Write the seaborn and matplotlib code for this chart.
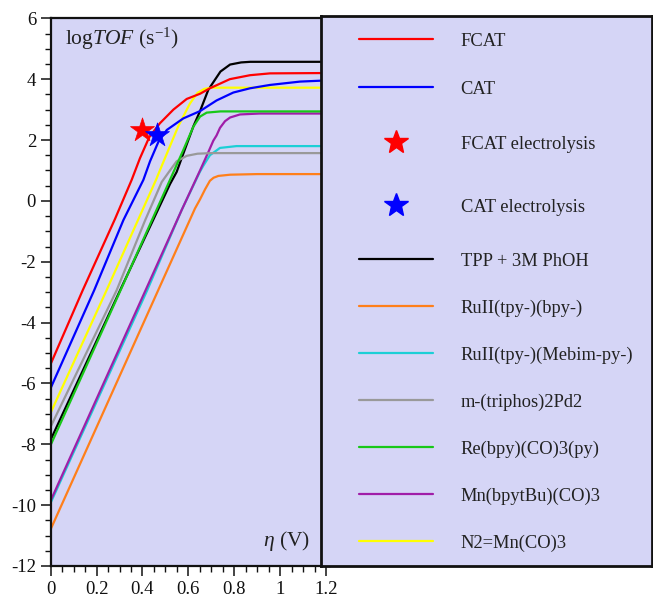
import matplotlib
matplotlib.use("Agg")
import matplotlib.pyplot as plt
import seaborn as sns
import pandas as pd
from matplotlib.lines import Line2D
from matplotlib.legend import Legend
from matplotlib.ticker import MultipleLocator, FixedLocator, FixedFormatter

# ---------------- data ----------------
eta_fcat = [0.0, 0.14, 0.28, 0.353, 0.389, 0.43, 0.476, 0.535, 0.593, 0.651, 0.694, 0.781, 0.869, 0.956, 1.178]
tof_fcat = [-5.36, -2.93, -0.60, 0.69, 1.40, 2.10, 2.55, 3.00, 3.35, 3.52, 3.70, 4.00, 4.13, 4.19, 4.20]

eta_cat = [0.0, 0.19, 0.317, 0.404, 0.433, 0.47, 0.506, 0.578, 0.651, 0.723, 0.796, 0.869, 0.956, 1.087, 1.178]
tof_cat = [-6.15, -2.93, -0.63, 0.69, 1.30, 1.95, 2.33, 2.71, 2.95, 3.30, 3.56, 3.70, 3.81, 3.92, 3.95]

eta_tpp = [0.0, 0.305, 0.52, 0.549, 0.578, 0.622, 0.651, 0.687, 0.709, 0.74, 0.782, 0.83, 0.87, 1.178]
tof_tpp = [-7.85, -2.90, 0.55, 0.95, 1.55, 2.45, 2.95, 3.65, 3.90, 4.25, 4.48, 4.55, 4.57, 4.57]

eta_ru_bpy = [0.0, 0.469, 0.629, 0.651, 0.673, 0.694, 0.71, 0.731, 0.782, 0.90, 1.178]
tof_ru_bpy = [-10.79, -2.93, -0.25, 0.05, 0.38, 0.66, 0.76, 0.82, 0.86, 0.88, 0.88]

eta_ru_mebim = [0.0, 0.42, 0.571, 0.65, 0.665, 0.694, 0.738, 0.81, 1.178]
tof_ru_mebim = [-9.92, -2.95, -0.30, 0.95, 1.15, 1.50, 1.74, 1.80, 1.80]

eta_pd = [0.0, 0.288, 0.411, 0.484, 0.52, 0.549, 0.593, 0.64, 0.70, 1.178]
tof_pd = [-7.42, -2.93, -0.65, 0.62, 1.00, 1.30, 1.48, 1.55, 1.57, 1.57]

eta_re = [0.0, 0.305, 0.52, 0.578, 0.622, 0.651, 0.68, 0.74, 1.178]
tof_re = [-8.02, -2.93, 0.69, 1.67, 2.44, 2.77, 2.90, 2.94, 2.94]

eta_mn = [0.0, 0.414, 0.571, 0.651, 0.687, 0.709, 0.723, 0.738, 0.76, 0.782, 0.825, 0.91, 1.178]
tof_mn = [-9.85, -2.93, -0.30, 1.00, 1.60, 1.98, 2.15, 2.40, 2.62, 2.74, 2.84, 2.87, 2.87]

eta_n2mn = [0.0, 0.244, 0.459, 0.484, 0.556, 0.607, 0.64, 0.67, 0.70, 1.178]
tof_n2mn = [-6.96, -2.93, 0.69, 1.15, 2.45, 3.20, 3.55, 3.68, 3.72, 3.72]

star_fcat_eta = [0.397]
star_fcat_tof = [2.33]
star_cat_eta = [0.462]
star_cat_tof = [2.17]

legend_labels = ["FCAT", "CAT", "FCAT electrolysis", "CAT electrolysis",
                 "TPP + 3M PhOH", "RuII(tpy-)(bpy-)", "RuII(tpy-)(Mebim-py-)",
                 "m-(triphos)2Pd2", "Re(bpy)(CO)3(py)", "Mn(bpytBu)(CO)3", "N2=Mn(CO)3"]

x_ticks = [0, 0.2, 0.4, 0.6, 0.8, 1.0, 1.2]
x_tick_labels = ["0", "0.2", "0.4", "0.6", "0.8", "1", "1.2"]
y_ticks = [-12, -10, -8, -6, -4, -2, 0, 2, 4, 6]
y_tick_labels = ["-12", "-10", "-8", "-6", "-4", "-2", "0", "2", "4", "6"]

# ---------------- style ----------------
sns.set_style("ticks")
plt.rcParams["font.family"] = ["Liberation Serif", "DejaVu Serif"]
plt.rcParams["mathtext.fontset"] = "custom"
plt.rcParams["mathtext.rm"] = "Liberation Serif"
plt.rcParams["mathtext.it"] = "Liberation Serif:italic"
plt.rcParams["mathtext.bf"] = "Liberation Serif:bold"
plt.rcParams["axes.unicode_minus"] = False

BG = "#d5d5f6"
C_RED, C_BLUE, C_BLACK = "#ff0000", "#0000ff", "#000000"
C_ORANGE, C_CYAN, C_GRAY = "#ff7f1a", "#1ccfd6", "#999999"
C_GREEN, C_PURPLE, C_YELLOW = "#18c818", "#a01ea8", "#ffff00"
LW = 1.6

W, H = 653, 599
fig = plt.figure(figsize=(W / 100, H / 100), dpi=100)

# main axes: pixel geometry
x0_px, x1_px = 50.7, 330.0
y_top_px, y_bot_px = 18.3, 566.0
ax = fig.add_axes([x0_px / W, 1 - y_bot_px / H, (x1_px - x0_px) / W, (y_bot_px - y_top_px) / H])
ax.set_facecolor(BG)
ax.set_xlim(0, (x1_px - x0_px) / 229.4)
ax.set_ylim(-12, 6)

series = [
    (eta_tpp, tof_tpp, C_BLACK),
    (eta_ru_bpy, tof_ru_bpy, C_ORANGE),
    (eta_ru_mebim, tof_ru_mebim, C_CYAN),
    (eta_mn, tof_mn, C_PURPLE),
    (eta_pd, tof_pd, C_GRAY),
    (eta_re, tof_re, C_GREEN),
    (eta_n2mn, tof_n2mn, C_YELLOW),
    (eta_cat, tof_cat, C_BLUE),
    (eta_fcat, tof_fcat, C_RED),
]
for xs, ys, col in series:
    df = pd.DataFrame({"eta": xs, "logTOF": ys})
    sns.lineplot(data=df, x="eta", y="logTOF", color=col, lw=LW, ax=ax,
                 estimator=None, sort=False, legend=False)

sns.scatterplot(x=star_fcat_eta, y=star_fcat_tof, marker="*", s=330, color=C_RED,
                edgecolor=C_RED, linewidth=0.5, ax=ax, zorder=5, legend=False)
sns.scatterplot(x=star_cat_eta, y=star_cat_tof, marker="*", s=330, color=C_BLUE,
                edgecolor=C_BLUE, linewidth=0.5, ax=ax, zorder=6, legend=False)

ax.set_xlabel("")
ax.set_ylabel("")
ax.xaxis.set_major_locator(FixedLocator(x_ticks))
ax.xaxis.set_major_formatter(FixedFormatter(x_tick_labels))
ax.yaxis.set_major_locator(FixedLocator(y_ticks))
ax.yaxis.set_major_formatter(FixedFormatter(y_tick_labels))
ax.xaxis.set_minor_locator(MultipleLocator(0.05))
ax.yaxis.set_minor_locator(MultipleLocator(0.5))
ax.tick_params(which="major", direction="out", length=7.5, width=1.1, labelsize=13.5,
               pad=3, colors="#111111")
ax.tick_params(which="minor", direction="out", length=4.5, width=1.0, colors="#111111")
for sp in ax.spines.values():
    sp.set_linewidth(1.6)
    sp.set_color("#111111")

ax.text(0.051, 0.951, r"log$\it{TOF}$ (s$^{-1}$)", transform=ax.transAxes,
        fontsize=15.5, ha="left", va="baseline", color="#222222")
ax.text(0.928, 0.0365, r"$\it{\eta}$ (V)", transform=ax.transAxes,
        fontsize=15.5, ha="right", va="baseline", color="#222222")

# legend panel
lx0, lx1 = 321.0, 652.0
ly_top, ly_bot = 16.0, 566.0
lax = fig.add_axes([lx0 / W, 1 - ly_bot / H, (lx1 - lx0) / W, (ly_bot - ly_top) / H])
lax.set_facecolor(BG)
lax.set_xticks([])
lax.set_yticks([])
for sp in lax.spines.values():
    sp.set_linewidth(2.0)
    sp.set_color("#111111")

handles = [
    Line2D([], [], color=C_RED, lw=LW),
    Line2D([], [], color=C_BLUE, lw=LW),
    Line2D([], [], color=C_RED, lw=0, marker="*", markersize=18),
    Line2D([], [], color=C_BLUE, lw=0, marker="*", markersize=18),
    Line2D([], [], color=C_BLACK, lw=LW),
    Line2D([], [], color=C_ORANGE, lw=LW),
    Line2D([], [], color=C_CYAN, lw=LW),
    Line2D([], [], color=C_GRAY, lw=LW),
    Line2D([], [], color=C_GREEN, lw=LW),
    Line2D([], [], color=C_PURPLE, lw=LW),
    Line2D([], [], color=C_YELLOW, lw=LW),
]
row_px = [41, 89, 144, 207, 261, 308, 355, 402, 449, 496, 543]
handle_left_px = 359.0
for h, lab, py in zip(handles, legend_labels, row_px):
    leg = Legend(lax, [h], [lab], loc="center left",
                 bbox_to_anchor=((handle_left_px - lx0) / (lx1 - lx0), (ly_bot - py) / (ly_bot - ly_top)),
                 frameon=False, borderpad=0, borderaxespad=0, handlelength=4.0,
                 handletextpad=1.5, fontsize=13.3, numpoints=1)
    for t in leg.get_texts():
        t.set_color("#222222")
    lax.add_artist(leg)

fig.savefig("out.png", dpi=100)
